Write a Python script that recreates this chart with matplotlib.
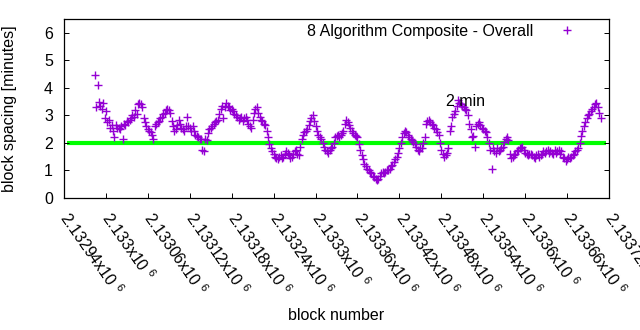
import numpy as np
import matplotlib
matplotlib.use("Agg")
import matplotlib.pyplot as plt

plt.rcParams['font.family'] = ['Liberation Sans', 'DejaVu Sans']
plt.rcParams['mathtext.fontset'] = 'custom'
plt.rcParams['mathtext.rm'] = 'Liberation Sans'
plt.rcParams['mathtext.it'] = 'Liberation Sans:italic'

# ---- data ----
block_start = 2132984
block_step = 4
# blocks block_start + 4*i
spacing_minutes = [
    4.46, 4.09, 3.35, 3.45, 3.15, 2.85, 2.65, 2.2, 2.55, 2.5,
    2.15, 2.65, 2.75, 2.9, 2.95, 3.05, 3.45, 3.3, 2.75, 2.5,
    2.4, 2.15, 2.7, 2.8, 2.95, 3.1, 3.25, 3.1, 2.6, 2.5,
    2.85, 2.55, 2.45, 2.95, 2.55, 2.6, 2.3, 2.2, 2.15, 1.7,
    2.1, 2.5, 2.6, 2.75, 2.85, 3.25, 2.9, 3.45, 3.3, 3.25,
    3.05, 2.95, 2.9, 2.8, 2.95, 2.7, 2.55, 3.1, 3.3, 2.95,
    2.8, 2.65, 2.2, 1.8, 1.6, 1.45, 1.5, 1.45, 1.6, 1.65,
    1.45, 1.6, 1.75, 1.55, 2.15, 2.4, 2.5, 2.8, 3.0, 2.6,
    2.3, 2.15, 1.85, 1.7, 1.75, 1.85, 2.2, 2.3, 2.3, 2.45,
    2.85, 2.65, 2.45, 2.3, 2.2, 1.75, 1.4, 1.15, 1.0, 0.9,
    0.75, 0.65, 0.8, 0.95, 0.95, 1.0, 1.15, 1.3, 1.5, 1.8,
    2.2, 2.45, 2.3, 2.15, 2.05, 1.85, 1.7, 1.8, 2.2, 2.8,
    2.75, 2.65, 2.5, 2.3, 1.75, 1.5, 1.65, 2.45, 2.95, 3.15,
    3.55, 3.4, 3.3, 3.2, 2.7, 2.2, 1.85, 2.7, 2.65, 2.5,
    2.4, 2.0, 1.05, 1.7, 1.8, 1.75, 1.85, 2.15, 2.1, 1.45,
    1.55, 1.7, 1.8, 1.85, 1.65, 1.55, 1.6, 1.5, 1.55, 1.5,
    1.6, 1.65, 1.75, 1.7, 1.6, 1.65, 1.75, 1.7, 1.45, 1.4,
    1.45, 1.55, 1.7, 1.8, 2.25, 2.6, 2.9, 3.05, 3.25, 3.4,
    3.3, 2.9,
]
# blocks block_start + 2 + 4*i (in-between blocks)
spacing_minutes_mid = [
    3.3, 3.5, 3.25, 2.9, 2.75, 2.55, 2.45, 2.65, 2.55, 2.6,
    2.7, 2.8, 2.85, 3.0, 3.2, 3.4, 3.4, 2.9, 2.6, 2.45,
    2.3, 2.6, 2.75, 2.9, 3.05, 3.2, 3.2, 2.8, 2.45, 2.65,
    2.7, 2.5, 2.6, 2.6, 2.45, 2.45, 2.25, 2.15, 1.75, 2.15,
    2.35, 2.55, 2.7, 2.8, 3.05, 3.35, 3.3, 3.35, 3.2, 3.15,
    3.0, 2.85, 2.95, 2.9, 2.85, 2.6, 2.85, 3.25, 3.1, 2.85,
    2.7, 2.45, 1.95, 1.7, 1.5, 1.4, 1.55, 1.5, 1.7, 1.55,
    1.5, 1.7, 1.6, 1.85, 2.3, 2.45, 2.65, 2.9, 2.8, 2.45,
    2.2, 2.0, 1.75, 1.65, 1.8, 2.0, 2.25, 2.2, 2.35, 2.7,
    2.75, 2.55, 2.35, 2.25, 1.95, 1.55, 1.25, 1.05, 0.95, 0.8,
    0.7, 0.7, 0.9, 0.9, 1.0, 1.05, 1.2, 1.4, 1.65, 2.0,
    2.35, 2.4, 2.2, 2.1, 1.95, 1.75, 1.8, 2.0, 2.7, 2.85,
    2.7, 2.55, 2.4, 2.0, 1.6, 1.55, 1.8, 2.6, 3.05, 3.35,
    3.45, 3.35, 3.25, 3.0, 2.5, 2.25, 2.6, 2.75, 2.55, 2.45,
    2.2, 1.75, 1.8, 1.65, 1.7, 1.8, 2.05, 2.2, 1.6, 1.5,
    1.6, 1.75, 1.8, 1.75, 1.6, 1.6, 1.55, 1.45, 1.6, 1.55,
    1.7, 1.7, 1.65, 1.65, 1.75, 1.7, 1.6, 1.5, 1.35, 1.5,
    1.5, 1.6, 1.75, 2.0, 2.45, 2.75, 3.0, 3.15, 3.3, 3.45,
    3.1,
]
blocks = block_start + block_step * np.arange(len(spacing_minutes))
blocks_mid = block_start + 2 + block_step * np.arange(len(spacing_minutes_mid))
all_blocks = np.concatenate([blocks, blocks_mid])
all_minutes = np.concatenate([spacing_minutes, spacing_minutes_mid])
order = np.argsort(all_blocks)
all_blocks = all_blocks[order]
all_minutes = all_minutes[order]

target_minutes = 2.0
target_range = [2132944, 2133716]
xtick_blocks = [2132940, 2133000, 2133060, 2133120, 2133180, 2133240, 2133300,
                2133360, 2133420, 2133480, 2133540, 2133600, 2133660, 2133720]
ytick_values = [0, 1, 2, 3, 4, 5, 6]
series_label = "8 Algorithm Composite - Overall"
annotation_text = "2 min"
annotation_pos = (2133487, 3.5)

# ---- figure ----
fig = plt.figure(figsize=(6.4, 3.3), dpi=100)
ax = fig.add_axes([64/640, 1-198/330, 545/640, 179/330])

FS = 11.5
ax.hlines(target_minutes, target_range[0], target_range[1], colors='#00ff00',
          linewidth=3.0, zorder=1, capstyle='butt')
ax.plot(all_blocks, all_minutes, linestyle='none', marker='+', color='#9400d3',
        markersize=6, markeredgewidth=1.0, label=series_label, zorder=2)

ax.set_xlim(xtick_blocks[0], xtick_blocks[-1])
ax.set_ylim(0, 6.5)
ax.set_yticks(ytick_values)
ax.set_yticklabels([str(v) for v in ytick_values], fontsize=FS)
ax.set_xticks(xtick_blocks)
ax.set_xticklabels(["%gx10 $^{6}$" % (b/1e6) for b in xtick_blocks], fontsize=FS,
                   rotation=-55, rotation_mode='anchor', ha='left', va='center')
ax.tick_params(axis='y', direction='in', length=3.5, width=0.7, right=True, pad=8)
ax.tick_params(axis='x', direction='in', length=3.5, width=0.7, top=False, pad=12)
for s in ax.spines.values():
    s.set_linewidth(0.9)

ax.set_ylabel("block spacing [minutes]", fontsize=FS)
ax.yaxis.set_label_coords(-0.086, 0.497)
ax.set_xlabel("block number", fontsize=FS)
ax.xaxis.set_label_coords(0.5, (198-316)/179)
ax.xaxis.label.set_va('center')

ax.text(annotation_pos[0], annotation_pos[1], annotation_text, fontsize=FS,
        ha='left', va='center')

leg = ax.legend(loc='upper right', bbox_to_anchor=(1-26/545, 1-5/179),
                frameon=False, markerfirst=False, fontsize=FS, borderpad=0,
                borderaxespad=0, handlelength=2.0, handletextpad=1.1)

fig.savefig("out.png", dpi=100)
